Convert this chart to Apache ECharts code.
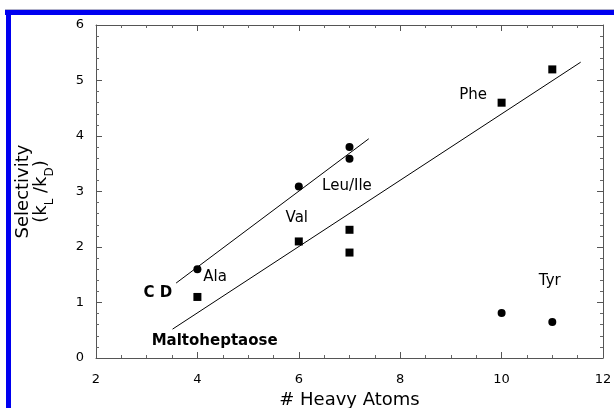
<!DOCTYPE html>
<html>
<head>
<meta charset="utf-8">
<script src="https://cdn.jsdelivr.net/npm/echarts@6/dist/echarts.min.js"></script>
<style>
  html, body { margin: 0; padding: 0; background: #fff; }
  #chart { width: 614px; height: 408px; }
</style>
</head>
<body>
<div id="chart"></div>
<script>
// 数据：重原子数 vs 选择性
const cdX = [4, 6, 7, 7, 10, 11];
const cdY = [1.6, 3.09, 3.8, 3.59, 0.81, 0.65];
const maltoX = [4, 6, 7, 7, 10, 11];
const maltoY = [1.1, 2.1, 2.31, 1.9, 4.6, 5.2];

// 拟合直线两端
const cdLineX = [3.58, 7.38];
const cdLineY = [1.35, 3.95];
const maltoLineX = [3.51, 11.56];
const maltoLineY = [0.52, 5.33];

// 文字标注
const noteNames = ['Phe', 'Leu/Ile', 'Val', 'Ala', 'Tyr', 'C D', 'Maltoheptaose'];
const noteX = [9.44, 6.95, 5.96, 4.35, 10.95, 3.22, 4.34];
const noteY = [4.74, 3.09, 2.52, 1.46, 1.39, 1.17, 0.31];
const noteBold = [false, false, false, false, false, true, true];

const FONT = 'DejaVu Sans';
const zip = (xs, ys) => xs.map((x, i) => [x, ys[i]]);

const frameAxis = (extra) => ({
  type: 'value',
  axisLine: { show: true, onZero: false, lineStyle: { color: '#555', width: 1 } },
  axisTick: { show: true, inside: true, length: 6, lineStyle: { color: '#555' } },
  minorTick: { show: true, length: 3, lineStyle: { color: '#666' } },
  splitLine: { show: false },
  minorSplitLine: { show: false },
  ...extra,
});

const xBase = { min: 2, max: 12, interval: 2 };
const yBase = { min: 0, max: 6, interval: 1 };

const chart = echarts.init(document.getElementById('chart'), null, { renderer: 'canvas' });

chart.setOption({
  animation: false,
  backgroundColor: '#fff',
  grid: { left: 96, top: 25, right: 11, bottom: 50, outerBoundsMode: 'none' },
  xAxis: [
    frameAxis({
      ...xBase,
      position: 'bottom',
      minorTick: { show: true, splitNumber: 4, length: 3, lineStyle: { color: '#666' } },
      axisLabel: { margin: 15, fontSize: 13, color: '#000', fontFamily: FONT },
      name: '# Heavy Atoms',
      nameLocation: 'middle',
      nameGap: 29,
      nameTextStyle: { fontSize: 18, color: '#000', fontFamily: FONT },
    }),
    frameAxis({
      ...xBase,
      position: 'top',
      minorTick: { show: true, splitNumber: 4, length: 3, lineStyle: { color: '#666' } },
      axisLabel: { show: false },
    }),
  ],
  yAxis: [
    frameAxis({
      ...yBase,
      position: 'left',
      minorTick: { show: true, splitNumber: 5, length: 3, lineStyle: { color: '#666' } },
      axisLabel: { margin: 12, fontSize: 13, color: '#000', fontFamily: FONT },
      name: '{t|Selectivity}\n{p|(k}{s|L}{p| /k}{s|D}{p|)}',
      nameLocation: 'middle',
      nameRotate: 90,
      nameGap: 40,
      nameTextStyle: {
        color: '#000',
        fontFamily: FONT,
        rich: {
          t: { fontSize: 18, lineHeight: 18, fontFamily: FONT, color: '#000' },
          p: { fontSize: 18, lineHeight: 24, verticalAlign: 'top', fontFamily: FONT, color: '#000' },
          s: { fontSize: 12, lineHeight: 12, verticalAlign: 'bottom', fontFamily: FONT, color: '#000' },
        },
      },
    }),
    frameAxis({
      ...yBase,
      position: 'right',
      minorTick: { show: true, splitNumber: 5, length: 3, lineStyle: { color: '#666' } },
      axisLabel: { show: false },
    }),
  ],
  graphic: [
    // 蓝色边框
    { type: 'rect', shape: { x: 5, y: 9, width: 609, height: 1 }, style: { fill: '#b0b0c8' }, silent: true },
    { type: 'rect', shape: { x: 5, y: 10, width: 609, height: 5 }, style: { fill: '#0000f0' }, silent: true },
    { type: 'rect', shape: { x: 6, y: 10, width: 5, height: 398 }, style: { fill: '#0000f0' }, silent: true },
  ],
  series: [
    {
      name: 'CD fit',
      type: 'line',
      data: zip(cdLineX, cdLineY),
      symbol: 'none',
      lineStyle: { color: '#000', width: 1 },
      silent: true,
      z: 2,
    },
    {
      name: 'Maltoheptaose fit',
      type: 'line',
      data: zip(maltoLineX, maltoLineY),
      symbol: 'none',
      lineStyle: { color: '#000', width: 1 },
      silent: true,
      z: 2,
    },
    {
      name: 'CD',
      type: 'scatter',
      data: zip(cdX, cdY),
      symbol: 'circle',
      symbolSize: 8,
      itemStyle: { color: '#000', opacity: 1 },
      z: 3,
    },
    {
      name: 'Maltoheptaose',
      type: 'scatter',
      data: zip(maltoX, maltoY),
      symbol: 'rect',
      symbolSize: 8,
      itemStyle: { color: '#000', opacity: 1 },
      z: 3,
    },
    {
      name: 'notes',
      type: 'scatter',
      symbolSize: 0,
      silent: true,
      itemStyle: { opacity: 1 },
      data: noteNames.map((n, i) => ({
        name: n,
        value: [noteX[i], noteY[i]],
        label: { fontWeight: noteBold[i] ? 'bold' : 'normal' },
      })),
      label: {
        show: true,
        position: 'inside',
        formatter: (p) => p.name,
        fontSize: 15,
        fontFamily: FONT,
        color: '#000',
        opacity: 1,
        align: 'center',
        verticalAlign: 'middle',
      },
      z: 4,
    },
  ],
});
</script>
</body>
</html>
